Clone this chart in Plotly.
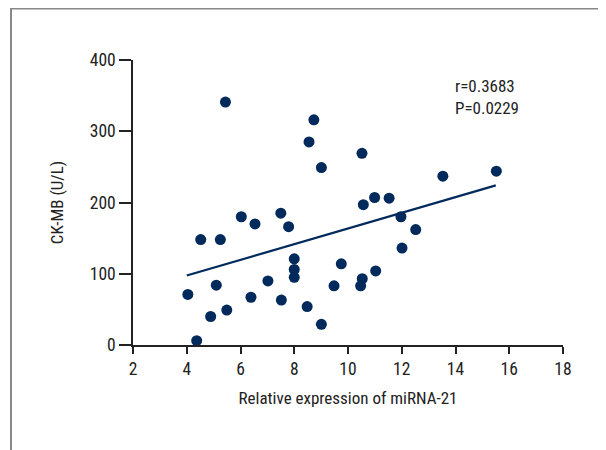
import plotly.graph_objects as go

# Data
expr_x = [5.44, 8.73, 8.55, 9.01, 6.03, 6.54, 7.50, 7.79, 4.52, 5.25,
          8.0, 8.0, 8.0, 9.75, 4.04, 5.10, 7.02, 6.39, 7.52, 9.48,
          4.89, 5.49, 8.48, 9.01, 4.37, 10.52, 13.53, 15.52, 10.57, 10.99,
          11.53, 11.97, 12.52, 12.01, 11.03, 10.53, 10.47]
ckmb_y = [341, 316, 285, 249, 180, 170, 185, 166, 148, 148,
          121, 106, 95, 114, 71, 84, 90, 67, 63, 83,
          40, 49, 54, 29, 6, 269, 237, 244, 197, 207,
          206, 180, 162, 136, 104, 93, 83]
fit_x = [4.0, 15.5]
fit_y = [97.5, 224.0]
x_ticks = [2, 4, 6, 8, 10, 12, 14, 16, 18]
y_ticks = [0, 100, 200, 300, 400]
stats_text = "r=0.3683<br>P=0.0229"

FONT = "Roboto Condensed, DejaVu Sans Condensed, sans-serif"
NAVY = "#002a5c"

fig = go.Figure()
fig.add_trace(go.Scatter(x=fit_x, y=fit_y, mode="lines",
                         line=dict(color=NAVY, width=2.2), hoverinfo="skip"))
fig.add_trace(go.Scatter(x=expr_x, y=ckmb_y, mode="markers",
                         marker=dict(color=NAVY, size=11, line=dict(width=0))))

W, H = 606, 450
L, R, T, B = 125, 51, 52, 113
pw, ph = W - L - R, H - T - B

def px(xp):
    return (xp - L) / pw

def py(yp):
    return (H - B - yp) / ph

fig.update_layout(
    width=W, height=H,
    margin=dict(l=L, r=R, t=T, b=B),
    paper_bgcolor="white", plot_bgcolor="white",
    showlegend=False,
    font=dict(family=FONT, size=17, color="#222"),
    xaxis=dict(range=[2, 18], tickvals=x_ticks, showgrid=False, zeroline=False,
               showline=True, linecolor="#222", linewidth=1.5,
               ticks="outside", ticklen=7, tickwidth=1.5, tickcolor="#222",
               tickfont=dict(size=17.5),
               title=dict(text="Relative expression of miRNA-21", font=dict(size=17), standoff=14)),
    yaxis=dict(range=[0, 400], tickvals=y_ticks, showgrid=False, zeroline=False,
               showline=True, linecolor="#222", linewidth=1.5,
               ticks="outside", ticklen=12, tickwidth=1.5, tickcolor="#222",
               tickfont=dict(size=17.5),
               title=dict(text="CK-MB (U/L)", font=dict(size=17), standoff=22)),
    annotations=[dict(text=stats_text, xref="paper", yref="paper",
                      x=px(479), y=py(89), xanchor="center", yanchor="middle",
                      showarrow=False, align="left", font=dict(size=17, color="#222"))],
    shapes=[
        dict(type="line", xref="paper", yref="paper", x0=px(3), x1=px(3),
             y0=py(0), y1=py(460), line=dict(color="#888", width=2)),
        dict(type="line", xref="paper", yref="paper", x0=px(3), x1=px(620),
             y0=py(0), y1=py(0), line=dict(color="#888", width=3)),
    ],
)

fig.write_html("out.html")
